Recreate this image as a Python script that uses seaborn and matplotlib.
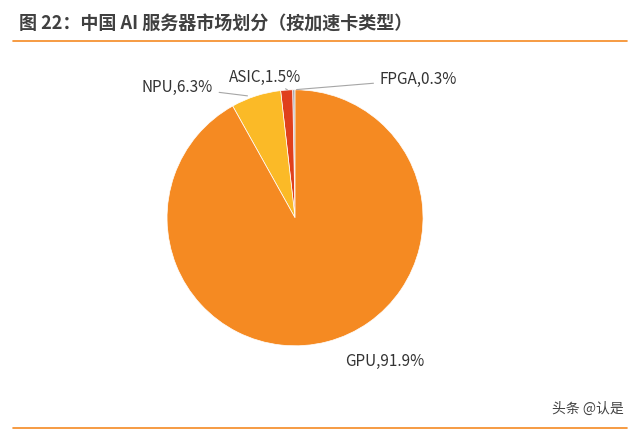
import matplotlib.pyplot as plt
import seaborn as sns

labels = ['FPGA', 'ASIC', 'NPU', 'GPU']
shares = [0.3, 1.5, 6.3, 91.9]
colors = ['#A6A6A6', '#E0401C', '#FBBA27', '#F58A22']

sns.set_theme(style='white')
plt.rcParams['font.family'] = ['Noto Sans CJK SC', 'DejaVu Sans']

fig = plt.figure(figsize=(6.4, 4.33), dpi=100)
ax = fig.add_axes([0.211, 0.127, 0.5, 0.74])
ax.pie(shares, colors=colors, startangle=90, counterclock=True,
       wedgeprops=dict(linewidth=0.5, edgecolor='white'))
ax.set_xlim(-1.25, 1.25)
ax.set_ylim(-1.25, 1.25)
ax.set_aspect('equal')

# labels with leader lines (positions in axes data units)
ax.annotate('FPGA,0.3%', xy=(-0.01, 1.0), xytext=(0.66, 1.08), fontsize=11, color='#333333',
            ha='left', va='center', arrowprops=dict(arrowstyle='-', color='#A6A6A6', lw=0.8))
ax.annotate('ASIC,1.5%', xy=(-0.06, 1.0), xytext=(-0.52, 1.10), fontsize=11, color='#333333',
            ha='left', va='center', arrowprops=dict(arrowstyle='-', color='#A6A6A6', lw=0.8))
ax.annotate('NPU,6.3%', xy=(-0.35, 0.95), xytext=(-0.64, 1.02), fontsize=11, color='#333333',
            ha='right', va='center', arrowprops=dict(arrowstyle='-', color='#A6A6A6', lw=0.8))
ax.text(0.39, -1.12, 'GPU,91.9%', fontsize=11, color='#333333', ha='left', va='center')

fig.text(0.03, 0.945, '图 22：中国 AI 服务器市场划分（按加速卡类型）', fontsize=13,
         fontweight='bold', color='#404040', ha='left', va='center')
fig.add_artist(plt.Line2D([0.02, 0.98], [0.905, 0.905], color='#F58A22', lw=1.2))
fig.add_artist(plt.Line2D([0.02, 0.98], [0.012, 0.012], color='#F58A22', lw=1.2))
fig.text(0.975, 0.055, '头条 @认是', fontsize=10, color='#444444', ha='right', va='center')

fig.savefig('out.png', dpi=100)
